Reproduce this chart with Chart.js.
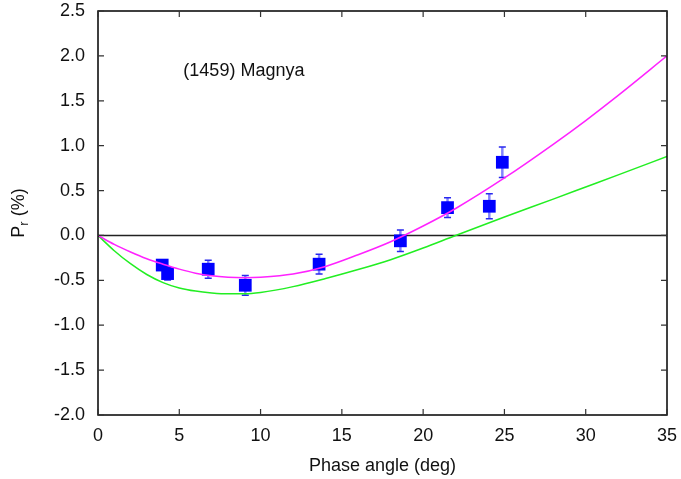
<!DOCTYPE html>
<html>
<head>
<meta charset="utf-8">
<script src="https://cdn.jsdelivr.net/npm/chart.js@4.4.1/dist/chart.umd.min.js"></script>
<style>
  html, body { margin: 0; padding: 0; background: #fff; }
  #wrap { width: 681px; height: 479px; }
</style>
</head>
<body>
<div id="wrap"><canvas id="polChart" width="681" height="479"></canvas></div>
<script>
// observed polarization
const obsPhase = [3.95, 4.28, 6.78, 9.06, 13.6, 18.6, 21.5, 24.07, 24.87];
const obsPol   = [-0.33, -0.425, -0.376, -0.555, -0.32, -0.06, 0.31, 0.325, 0.815];
const obsErr   = [0.05, 0.07, 0.10, 0.11, 0.11, 0.12, 0.11, 0.14, 0.17];

// magenta curve
const magPhase = [0, 1, 2, 3, 4, 5, 6, 7, 8, 9, 10, 12, 14, 16, 18, 20, 22, 25, 28, 30, 32, 35];
const magPol   = [0, -0.1, -0.185, -0.26, -0.32, -0.375, -0.42, -0.45, -0.465, -0.47, -0.465,
                  -0.43, -0.345, -0.215, -0.07, 0.105, 0.3, 0.64, 1.015, 1.28, 1.56, 2.0];

// green curve
const grnPhase = [0, 1, 2, 3, 4, 5, 6, 7, 8, 9, 10, 12, 14, 16, 18, 20, 22, 25, 28, 30, 32, 35];
const grnPol   = [0, -0.17, -0.315, -0.435, -0.525, -0.585, -0.62, -0.64, -0.65, -0.65, -0.635,
                  -0.57, -0.48, -0.38, -0.27, -0.14, 0.0, 0.205, 0.405, 0.54, 0.675, 0.88];

const zeroPhase = [0, 35];
const zeroPol = [0, 0];

const xTicks = [0, 5, 10, 15, 20, 25, 30, 35];
const yTicks = [-2.0, -1.5, -1.0, -0.5, 0.0, 0.5, 1.0, 1.5, 2.0, 2.5];

const FONT = "'Liberation Sans', Arial, sans-serif";

function pairs(xs, ys) {
  return xs.map((x, i) => ({ x: x, y: ys[i] }));
}

// frame, inner tick marks, error bars, labels
const framePlugin = {
  id: 'frame',
  beforeDatasetsDraw(chart) {
    const ctx = chart.ctx, xs = chart.scales.x, ys = chart.scales.y;
    ctx.save();
    obsPhase.forEach((p, i) => {
      const px = xs.getPixelForValue(p);
      const top = ys.getPixelForValue(obsPol[i] + obsErr[i]);
      const bot = ys.getPixelForValue(obsPol[i] - obsErr[i]);
      ctx.strokeStyle = 'rgba(90,90,255,0.75)';
      ctx.lineWidth = 2.5;
      ctx.beginPath();
      ctx.moveTo(px, top); ctx.lineTo(px, bot);
      ctx.stroke();
      ctx.strokeStyle = '#2828ee';
      ctx.lineWidth = 1.5;
      ctx.beginPath();
      ctx.moveTo(px - 3.5, top); ctx.lineTo(px + 3.5, top);
      ctx.moveTo(px - 3.5, bot); ctx.lineTo(px + 3.5, bot);
      ctx.stroke();
    });
    ctx.restore();
  },
  afterDraw(chart) {
    const ctx = chart.ctx, a = chart.chartArea;
    const xs = chart.scales.x, ys = chart.scales.y;
    ctx.save();
    ctx.strokeStyle = '#000';
    ctx.lineWidth = 1.5;
    ctx.strokeRect(a.left, a.top, a.right - a.left, a.bottom - a.top);
    ctx.strokeStyle = '#333';
    ctx.lineWidth = 1.2;
    ctx.beginPath();
    xTicks.forEach(t => {
      const px = xs.getPixelForValue(t);
      ctx.moveTo(px, a.bottom); ctx.lineTo(px, a.bottom - 6);
      ctx.moveTo(px, a.top); ctx.lineTo(px, a.top + 6);
    });
    yTicks.forEach(t => {
      const py = ys.getPixelForValue(t);
      ctx.moveTo(a.left, py); ctx.lineTo(a.left + 6, py);
      ctx.moveTo(a.right, py); ctx.lineTo(a.right - 6, py);
    });
    ctx.stroke();

    // object name
    ctx.fillStyle = '#111';
    ctx.font = '18px ' + FONT;
    ctx.textBaseline = 'middle';
    ctx.textAlign = 'left';
    ctx.fillText('(1459) Magnya', xs.getPixelForValue(5.25), ys.getPixelForValue(1.83));

    // y axis title with subscript
    ctx.translate(19, (a.top + a.bottom) / 2);
    ctx.rotate(-Math.PI / 2);
    const w1 = ctx.measureText('P').width;
    ctx.font = '13px ' + FONT;
    const w2 = ctx.measureText('r').width;
    ctx.font = '18px ' + FONT;
    const w3 = ctx.measureText(' (%)').width;
    let x0 = -(w1 + w2 + w3) / 2;
    ctx.fillText('P', x0, 0);
    ctx.font = '13px ' + FONT;
    ctx.fillText('r', x0 + w1, 5);
    ctx.font = '18px ' + FONT;
    ctx.fillText(' (%)', x0 + w1 + w2, 0);
    ctx.restore();
  }
};

const ctx = document.getElementById('polChart').getContext('2d');
const polChart = new Chart(ctx, {
  type: 'scatter',
  data: {
    datasets: [
      {
        label: 'fit 1',
        data: pairs(magPhase, magPol),
        showLine: true,
        borderColor: '#ff22ff',
        borderWidth: 1.5,
        pointRadius: 0,
        cubicInterpolationMode: 'monotone'
      },
      {
        label: 'fit 2',
        data: pairs(grnPhase, grnPol),
        showLine: true,
        borderColor: '#22ee22',
        borderWidth: 1.5,
        pointRadius: 0,
        cubicInterpolationMode: 'monotone'
      },
      {
        label: 'observed',
        data: pairs(obsPhase, obsPol),
        pointStyle: 'rect',
        pointRadius: 9,
        pointHoverRadius: 9,
        backgroundColor: '#0000ff',
        borderColor: '#0000ff',
        borderWidth: 0
      },
      {
        label: 'zero',
        data: pairs(zeroPhase, zeroPol),
        showLine: true,
        borderColor: '#222',
        borderWidth: 1.5,
        pointRadius: 0
      }
    ]
  },
  options: {
    responsive: false,
    animation: false,
    layout: { padding: { top: 11, right: 14, left: 0, bottom: 0 } },
    plugins: {
      legend: { display: false },
      tooltip: { enabled: false }
    },
    scales: {
      x: {
        type: 'linear',
        min: 0,
        max: 35,
        afterFit: s => { s.height = 64; s.paddingLeft = 0; s.paddingRight = 0; },
        afterBuildTicks: s => { s.ticks = xTicks.map(v => ({ value: v })); },
        grid: { display: false, drawTicks: false },
        border: { display: false },
        ticks: {
          color: '#111',
          padding: 10,
          font: { family: FONT, size: 18 },
          callback: v => v
        },
        title: {
          display: true,
          text: 'Phase angle (deg)',
          color: '#111',
          padding: { top: 0, bottom: 2 },
          font: { family: FONT, size: 18 }
        }
      },
      y: {
        type: 'linear',
        min: -2.0,
        max: 2.5,
        afterFit: s => { s.width = 98; s.paddingTop = 0; s.paddingBottom = 0; },
        afterBuildTicks: s => { s.ticks = yTicks.map(v => ({ value: v })); },
        grid: { display: false, drawTicks: false },
        border: { display: false },
        ticks: {
          color: '#111',
          padding: 13,
          font: { family: FONT, size: 18 },
          callback: v => v.toFixed(1)
        }
      }
    }
  },
  plugins: [framePlugin]
});
</script>
</body>
</html>
